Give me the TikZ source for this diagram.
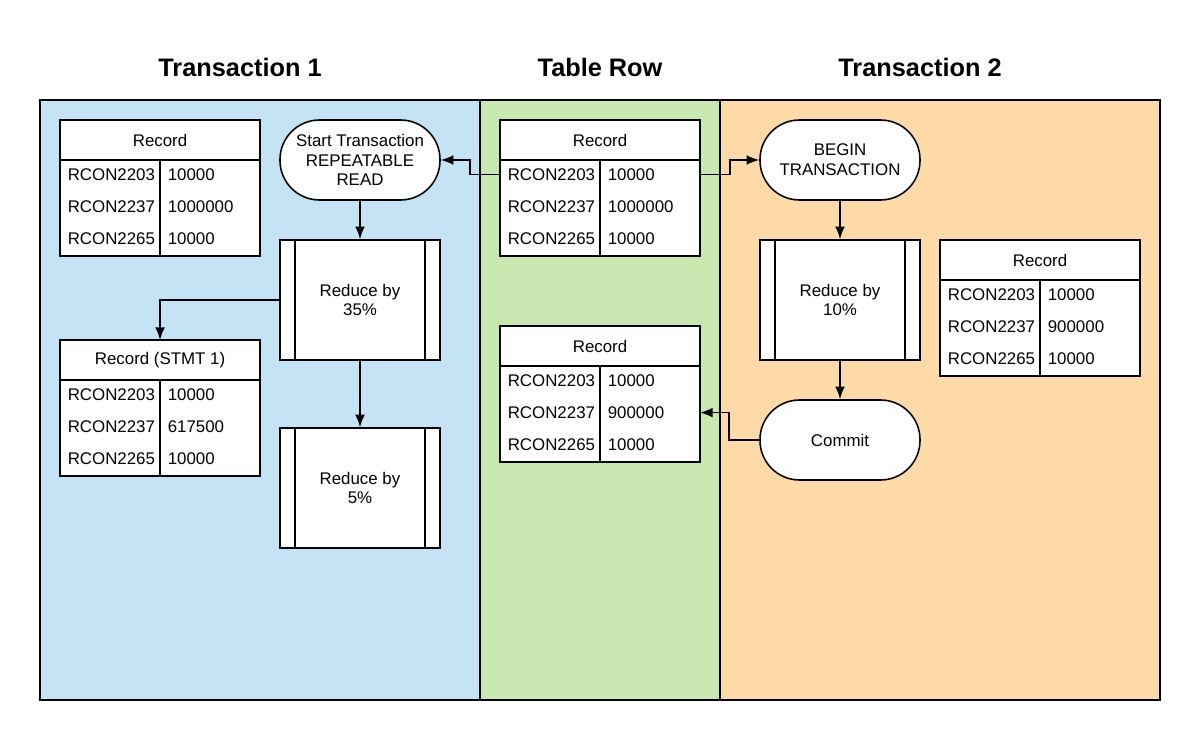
\documentclass[tikz,border=0pt]{standalone}
\usepackage{fontspec}
\setmainfont{Liberation Sans}
\usetikzlibrary{arrows.meta,positioning,calc}

\definecolor{laneblue}{RGB}{196,228,246}
\definecolor{lanegreen}{RGB}{200,231,177}
\definecolor{laneorange}{RGB}{255,218,168}

% record table: name, top-left corner, title, three values
\newcommand{\recordtable}[6]{%
  \node[rechead, anchor=north west] (#1) at (#2) {#3};
  \draw[fill=white] (#1.south west) rectangle ++(200,96);
  \draw (#1.south) -- ++(0,96);
  \node[reccell] (#1-a) at ($(#1.south west)+(0,16)$) {RCON2203};
  \node[reccell] (#1-b) at ($(#1.south west)+(0,48)$) {RCON2237};
  \node[reccell] (#1-c) at ($(#1.south west)+(0,80)$) {RCON2265};
  \node[reccell] at ($(#1.south)+(0,16)$) {#4};
  \node[reccell] at ($(#1.south)+(0,48)$) {#5};
  \node[reccell] at ($(#1.south)+(0,80)$) {#6};
}
% process box with side bars
\newcommand{\procbars}[1]{%
  \draw ($(#1.north west)+(16,0)$) -- ($(#1.south west)+(16,0)$);
  \draw ($(#1.north east)+(-16,0)$) -- ($(#1.south east)+(-16,0)$);
}

\begin{document}
\begin{tikzpicture}[x=0.025cm, y=-0.025cm, line width=1.1pt,
    font=\fontsize{12}{14}\selectfont,
    rechead/.style={draw, fill=white, minimum width=5cm, minimum height=1cm, outer sep=0pt},
    reccell/.style={anchor=west, inner sep=1pt, xshift=4pt, yshift=1pt},
    proc/.style={draw, fill=white, minimum width=4cm, minimum height=3cm, align=center},
    term/.style={draw, fill=white, rounded corners=0.99cm, minimum width=4cm, minimum height=2cm, align=center},
    title/.style={font=\fontsize{18}{21}\selectfont\bfseries},
    arr/.style={-{Latex[length=9pt,width=7pt]}}]
    \useasboundingbox (0,0) rectangle (1200,740);

    % lanes
    \draw[fill=laneblue] (40,100) rectangle (480,700);
    \draw[fill=lanegreen] (480,100) rectangle (720,700);
    \draw[fill=laneorange] (720,100) rectangle (1160,700);
    \node[title] (t1) at (240,67) {Transaction 1};
    \node[title] (tr) at (600,67) {Table Row};
    \node[title] (t2) at (920,67) {Transaction 2};

    % tables
    \recordtable{rec1}{60,120}{Record}{10000}{1000000}{10000}
    \recordtable{stmt}{60,340}{Record (STMT 1)}{10000}{617500}{10000}
    \recordtable{row}{500,120}{Record}{10000}{1000000}{10000}
    \recordtable{rownew}{500,326}{Record}{10000}{900000}{10000}
    \recordtable{rec2}{940,240}{Record}{10000}{900000}{10000}

    % transaction 1
    \node[term] (start) at (360,160) {Start Transaction\\REPEATABLE\\READ};
    \node[proc] (red35) at (360,300) {Reduce by\\35\%};
    \procbars{red35}
    \node[proc] (red5) at (360,488) {Reduce by\\5\%};
    \procbars{red5}

    % transaction 2
    \node[term] (begin) at (840,160) {BEGIN\\TRANSACTION};
    \node[proc] (red10) at (840,300) {Reduce by\\10\%};
    \procbars{red10}
    \node[term] (commit) at (840,440) {Commit};

    \coordinate (rowl) at (row.south west |- row-a);
    \coordinate (rowr) at (row.south east |- row-a);
    \coordinate (newr) at (rownew.south east |- rownew-b);

    \draw[arr] (rowl) -- ++(-30,0) |- (start.east);
    \draw[arr] (rowr) -- ++(30,0) |- (begin.west);
    \draw[arr] (start) -- (red35);
    \draw[arr] (red35) -- (red5);
    \draw[arr] (red35.west) -| (stmt.north);
    \draw[arr] (begin) -- (red10);
    \draw[arr] (red10) -- (commit);
    \draw[arr] (commit.west) -- ++(-30,0) |- (newr);
\end{tikzpicture}
\end{document}
